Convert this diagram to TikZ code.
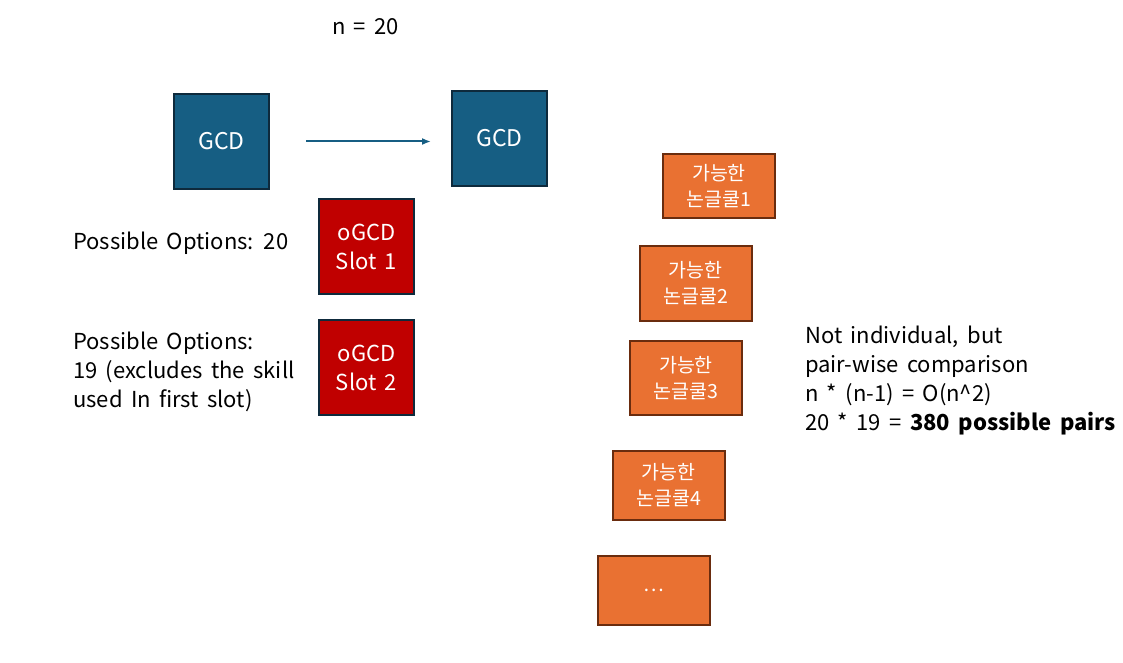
\documentclass[tikz,border=0pt]{standalone}
\usepackage{fontspec}
\setmainfont[WordSpace=1.7]{Noto Sans CJK KR}
\usepackage{tikz}
\usetikzlibrary{arrows.meta}

\definecolor{gcdblue}{HTML}{165E83}
\definecolor{boxline}{HTML}{0E2A3C}
\definecolor{slotred}{HTML}{C00000}
\definecolor{pairorange}{HTML}{E97132}
\definecolor{pairline}{HTML}{6A2C0E}

\tikzset{
  gcdbox/.style={draw=boxline, line width=2pt, fill=gcdblue, text=white,
    minimum width=95pt, minimum height=95pt, font=\fontsize{23}{26}\selectfont},
  slotbox/.style={gcdbox, fill=slotred, align=center,
    font=\fontsize{22}{29}\selectfont},
  pairbox/.style={draw=pairline, line width=2pt, fill=pairorange, text=white,
    minimum width=112pt, align=center, font=\fontsize{19.5}{26}\selectfont},
  plain/.style={anchor=west, align=left, inner sep=0pt,
    font=\fontsize{22}{29}\selectfont}
}

\begin{document}
\begin{tikzpicture}[x=1pt, y=-1pt]
\useasboundingbox (0,0) rectangle (1123,663);
\begin{scope}
    \node[gcdbox] (gcd1) at (221.5,141.5) {GCD};
    \node[gcdbox] (gcd2) at (499.5,138.5) {GCD};
    \node[slotbox] (slot1) at (366.5,246.5) {oGCD\\Slot 1};
    \node[slotbox] (slot2) at (366.5,367.5) {oGCD\\Slot 2};
  \end{scope}
\draw[-{Latex[length=9pt,width=7pt]}, gcdblue, line width=2pt,
  shorten <=36pt, shorten >=20pt] (gcd1.east) -- (gcd1.east -| gcd2.west);
\foreach \i/\x/\y/\h/\txt in {1/719/186/64/가능한\\논글쿨1, 2/695.5/283.5/75/가능한\\논글쿨2,
    3/686/378/74/가능한\\논글쿨3, 4/668.5/485.5/69/가능한\\논글쿨4, 5/653.5/590.5/69/\dots}
  \node[pairbox, minimum height=\h pt] (pair\i) at (\x,\y) {\txt};
\node[plain] (size) at (332,27) {n = 20};
\node[plain] (opt1) at (73,243) {Possible Options: 20};
\node[plain] (opt2) at (73,372) {Possible Options:\\19 (excludes the skill\\used In first slot)};
\node[plain] (note) at (805,381) {Not individual, but\\pair-wise comparison\\n * (n-1) = O(n\textasciicircum2)\\20 * 19 = \textbf{380 possible pairs}};
\end{tikzpicture}
\end{document}
